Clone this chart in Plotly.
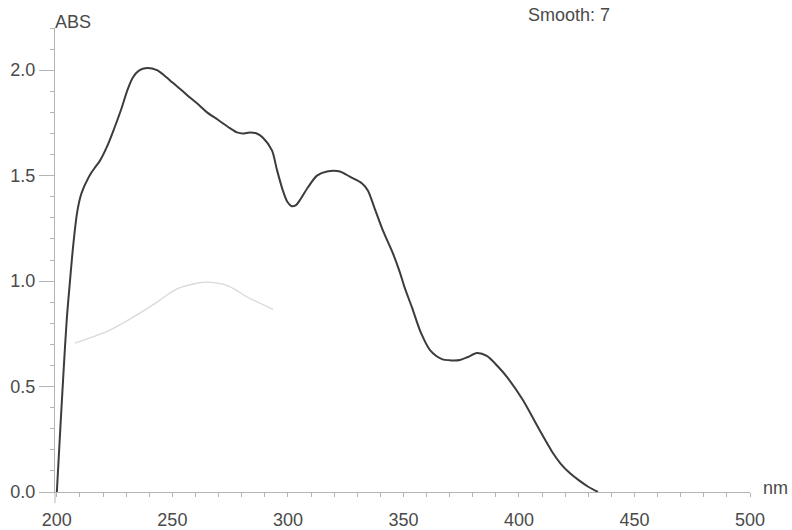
import plotly.graph_objects as go

# Main absorbance spectrum (nm, ABS)
wl_main = [200.0, 201.5, 203.0, 204.3, 205.6, 207.0, 208.7, 210.2, 211.7, 213.2, 214.7, 216.6,
           218.6, 221.6, 224.7, 227.7, 230.7, 232.9, 235.5, 239.0, 243.3, 246.5, 250.2, 254.0,
           257.6, 261.5, 265.0, 269.7, 274.9, 278.0, 280.5, 283.5, 286.5, 289.2, 293.1, 295.2,
           297.8, 299.8, 301.7, 303.5, 305.2, 308.7, 312.6, 316.9, 322.5, 326.8, 332.0, 334.6,
           337.7, 341.1, 345.5, 348.5, 350.5, 353.7, 357.6, 361.5, 366.7, 370.5, 374.5, 377.9,
           381.8, 386.1, 390.9, 395.2, 401.7, 408.2, 414.7, 418.0, 422.0, 426.0, 430.0, 434.2]
abs_main = [0.00, 0.30, 0.59, 0.82, 0.99, 1.16, 1.32, 1.40, 1.445, 1.48, 1.51, 1.54,
            1.57, 1.635, 1.72, 1.81, 1.91, 1.965, 1.998, 2.01, 2.00, 1.975, 1.94, 1.905,
            1.87, 1.835, 1.80, 1.765, 1.725, 1.705, 1.70, 1.705, 1.70, 1.68, 1.62, 1.53,
            1.43, 1.375, 1.355, 1.36, 1.384, 1.445, 1.50, 1.52, 1.52, 1.495, 1.464, 1.43,
            1.34, 1.24, 1.13, 1.04, 0.97, 0.875, 0.754, 0.673, 0.63, 0.624, 0.626, 0.64,
            0.659, 0.645, 0.595, 0.54, 0.436, 0.308, 0.185, 0.135, 0.09, 0.055, 0.025, 0.00]

# Faint secondary trace
wl_faint = [207.8, 214.0, 221.5, 228.5, 235.9, 244.0, 251.8, 258.5, 264.8, 269.5, 273.5,
            278.0, 282.1, 288.0, 293.6]
abs_faint = [0.706, 0.73, 0.76, 0.80, 0.848, 0.905, 0.962, 0.985, 0.995, 0.99, 0.98,
             0.955, 0.926, 0.895, 0.866]

x_ticks = [200, 250, 300, 350, 400, 450, 500]
y_ticks = [0.0, 0.5, 1.0, 1.5, 2.0]
y_tick_text = ["0.0", "0.5", "1.0", "1.5", "2.0"]

FONT = "Liberation Sans, Arial, sans-serif"
AXC = "#b4b4b4"
TXC = "#4a4a4a"
FS = 18

fig = go.Figure()
fig.add_trace(go.Scatter(x=wl_faint, y=abs_faint, mode="lines",
                         line=dict(color="#d9d9d9", width=1.3, shape="spline", smoothing=1),
                         hoverinfo="skip", showlegend=False))
fig.add_trace(go.Scatter(x=wl_main, y=abs_main, mode="lines",
                         line=dict(color="#3c3c3c", width=2, shape="spline", smoothing=0.8),
                         showlegend=False))

fig.update_layout(
    width=792, height=530,
    margin=dict(l=55, r=42, t=28, b=38),
    paper_bgcolor="white", plot_bgcolor="white",
    font=dict(family=FONT, size=FS, color=TXC),
    xaxis=dict(range=[199.2, 500], tickvals=x_ticks, ticktext=[str(v) for v in x_ticks],
               automargin=False,
               showgrid=False, zeroline=False, showline=True, linecolor=AXC, linewidth=1,
               ticks="outside", ticklen=4, tickcolor=AXC, tickwidth=1,
               ticklabelstandoff=7,
               tickfont=dict(family=FONT, size=FS, color=TXC),
               minor=dict(dtick=10, tick0=200, ticks="outside", ticklen=4, tickcolor=AXC)),
    yaxis=dict(range=[0, 2.2], tickvals=y_ticks, ticktext=y_tick_text,
               automargin=False,
               showgrid=False, zeroline=False, showline=True, linecolor=AXC, linewidth=1,
               ticks="outside", ticklen=15, tickcolor=AXC, tickwidth=1,
               tickfont=dict(family=FONT, size=FS, color=TXC),
               minor=dict(dtick=0.1, tick0=0, ticks="outside", ticklen=4, tickcolor=AXC)),
    shapes=[
        # y-axis line continues a little below the x axis
        dict(type="line", xref="paper", yref="paper", x0=0, x1=0, y0=-0.024, y1=0,
             line=dict(color=AXC, width=1)),
    ],
    annotations=[
        dict(text="ABS", xref="paper", yref="paper", x=0.0, y=1.0, xanchor="left",
             yanchor="bottom", xshift=-2, yshift=-6, showarrow=False,
             font=dict(family=FONT, size=FS, color=TXC)),
        dict(text="Smooth: 7", xref="paper", yref="paper", x=0.68, y=1.0, xanchor="left",
             yanchor="bottom", xshift=-2, yshift=1, showarrow=False,
             font=dict(family=FONT, size=FS, color=TXC)),
        dict(text="nm", xref="paper", yref="paper", x=1.0, y=0.0, xanchor="left",
             yanchor="middle", xshift=11, yshift=4, showarrow=False,
             font=dict(family=FONT, size=FS, color=TXC)),
    ],
)

fig.write_html("out.html")
